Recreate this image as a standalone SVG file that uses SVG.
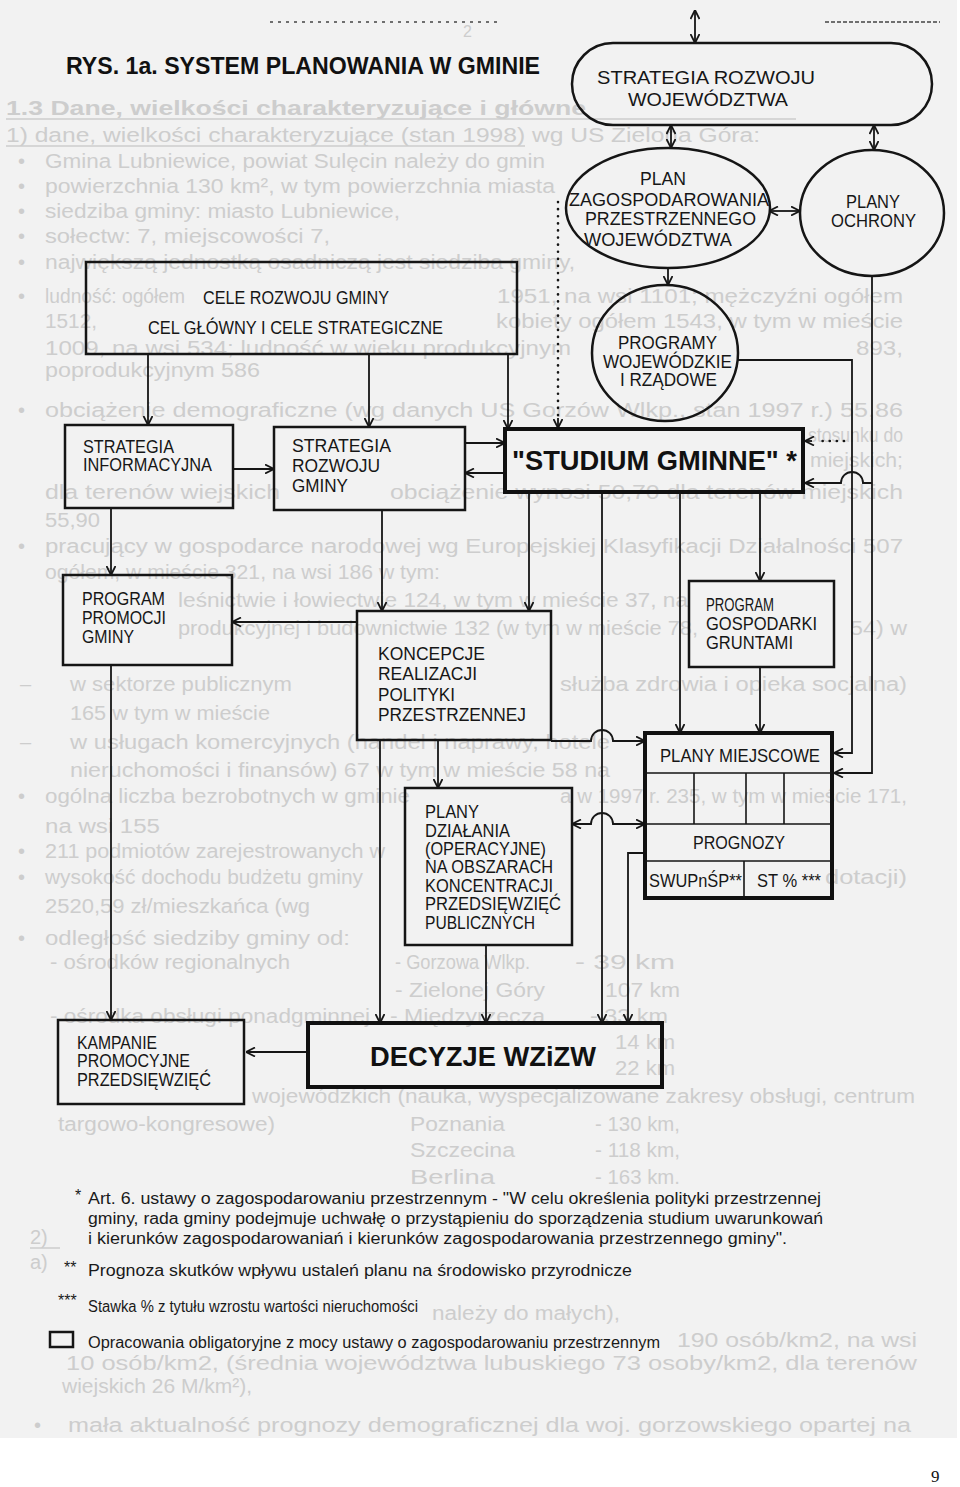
<svg xmlns="http://www.w3.org/2000/svg" width="960" height="1487" viewBox="0 0 960 1487">
<style>
.bx{fill:none;stroke:#151515;stroke-width:2.5}
.hv{fill:none;stroke:#111;stroke-width:4}
.ln{fill:none;stroke:#151515;stroke-width:1.6}
.lbl{font-family:"Liberation Sans Narrow","Liberation Sans",Arial,sans-serif;font-size:18px;fill:#161616}
.big{font-family:"Liberation Sans",Arial,sans-serif;font-weight:bold;fill:#111}
.cn{fill:none;stroke:#161616;stroke-width:1.8}
.dot{stroke-dasharray:0.1 7;stroke-linecap:round;stroke-width:2.6}
.bg{font-family:"Liberation Sans Narrow","Liberation Sans",Arial,sans-serif;font-size:20px;fill:#cdcdcd}
.ul{stroke:#cdcdcd;stroke-width:1.5}
.ft{font-family:"Liberation Sans Narrow","Liberation Sans",Arial,sans-serif;font-size:16px;fill:#1a1a1a}
</style>
<defs>
<marker id="ah" viewBox="0 0 10 10" refX="9.5" refY="5" markerWidth="10" markerHeight="10" markerUnits="userSpaceOnUse" orient="auto-start-reverse">
<path d="M0.5,0.5 L9.5,5 L0.5,9.5" fill="none" stroke="#161616" stroke-width="1.8"/>
</marker>
</defs>
<rect x="0" y="0" width="960" height="1487" fill="#ffffff"/>
<rect x="0" y="0" width="957" height="1438" fill="#f2f2f2"/>

<g id="background-text" class="bg">
<text x="6" y="115" font-weight="bold" textLength="580" lengthAdjust="spacingAndGlyphs">1.3 Dane, wielkości charakteryzujące i główne</text>
<line class="ul" x1="6" y1="119" x2="796" y2="119"/>
<text x="6" y="142" textLength="754" lengthAdjust="spacingAndGlyphs">1) dane, wielkości charakteryzujące (stan 1998) wg US Zielona Góra:</text>
<line class="ul" x1="6" y1="146" x2="525" y2="146"/>
<text x="18" y="168">•</text><text x="45" y="168" textLength="500" lengthAdjust="spacingAndGlyphs">Gmina Lubniewice, powiat Sulęcin należy do gmin</text>
<text x="18" y="193">•</text><text x="45" y="193" textLength="510" lengthAdjust="spacingAndGlyphs">powierzchnia 130 km², w tym powierzchnia miasta</text>
<text x="18" y="218">•</text><text x="45" y="218" textLength="355" lengthAdjust="spacingAndGlyphs">siedziba gminy: miasto Lubniewice,</text>
<text x="18" y="243">•</text><text x="45" y="243" textLength="285" lengthAdjust="spacingAndGlyphs">sołectw: 7, miejscowości 7,</text>
<text x="18" y="269">•</text><text x="45" y="269" textLength="530" lengthAdjust="spacingAndGlyphs">największą jednostką osadniczą jest siedziba gminy,</text>
<text x="18" y="303">•</text><text x="45" y="303" textLength="140" lengthAdjust="spacingAndGlyphs">ludność: ogółem</text>
<text x="497" y="303" textLength="406" lengthAdjust="spacingAndGlyphs">1951, na wsi 1101; mężczyźni ogółem</text>
<text x="45" y="328" textLength="52" lengthAdjust="spacingAndGlyphs">1512,</text>
<text x="496" y="328" textLength="407" lengthAdjust="spacingAndGlyphs">kobiety ogółem 1543, w tym w mieście</text>
<text x="45" y="355" textLength="526" lengthAdjust="spacingAndGlyphs">1009, na wsi 534; ludność w wieku produkcyjnym</text>
<text x="856" y="355" textLength="47" lengthAdjust="spacingAndGlyphs">893,</text>
<text x="45" y="377" textLength="215" lengthAdjust="spacingAndGlyphs">poprodukcyjnym 586</text>
<text x="18" y="417">•</text><text x="45" y="417" textLength="858" lengthAdjust="spacingAndGlyphs">obciążenie demograficzne (wg danych US Gorzów Wlkp., stan 1997 r.) 55,86</text>
<text x="808" y="442" textLength="95" lengthAdjust="spacingAndGlyphs">stosunku do</text>
<text x="810" y="467" textLength="93" lengthAdjust="spacingAndGlyphs">miejskich;</text>
<text x="45" y="499" textLength="235" lengthAdjust="spacingAndGlyphs">dla terenów wiejskich</text>
<text x="390" y="499" textLength="513" lengthAdjust="spacingAndGlyphs">obciążenie wynosi 50,70 dla terenów miejskich</text>
<text x="45" y="527" textLength="55" lengthAdjust="spacingAndGlyphs">55,90</text>
<text x="18" y="553">•</text><text x="45" y="553" textLength="858" lengthAdjust="spacingAndGlyphs">pracujący w gospodarce narodowej wg Europejskiej Klasyfikacji Działalności 507</text>
<text x="45" y="579" textLength="395" lengthAdjust="spacingAndGlyphs">ogółem, w mieście 321, na wsi 186 w tym:</text>
<text x="178" y="607" textLength="510" lengthAdjust="spacingAndGlyphs">leśnictwie i łowiectwie 124, w tym w mieście 37, na</text>
<text x="178" y="635" textLength="520" lengthAdjust="spacingAndGlyphs">produkcyjnej i budownictwie 132 (w tym w mieście 78,</text>
<text x="850" y="635" textLength="57" lengthAdjust="spacingAndGlyphs">54) w</text>
<text x="20" y="691">–</text><text x="70" y="691" textLength="222" lengthAdjust="spacingAndGlyphs">w sektorze publicznym</text>
<text x="560" y="691" textLength="347" lengthAdjust="spacingAndGlyphs">służba zdrowia i opieka socjalna)</text>
<text x="70" y="720" textLength="200" lengthAdjust="spacingAndGlyphs">165 w tym w mieście</text>
<text x="20" y="749">–</text><text x="70" y="749" textLength="540" lengthAdjust="spacingAndGlyphs">w usługach komercyjnych (handel i naprawy, hotele</text>
<text x="70" y="777" textLength="540" lengthAdjust="spacingAndGlyphs">nieruchomości i finansów) 67 w tym w mieście 58 na</text>
<text x="18" y="803">•</text><text x="45" y="803" textLength="365" lengthAdjust="spacingAndGlyphs">ogólna liczba bezrobotnych w gminie</text>
<text x="560" y="803" textLength="347" lengthAdjust="spacingAndGlyphs">a w 1997 r. 235, w tym w mieście 171,</text>
<text x="45" y="833" textLength="115" lengthAdjust="spacingAndGlyphs">na wsi 155</text>
<text x="18" y="858">•</text><text x="45" y="858" textLength="340" lengthAdjust="spacingAndGlyphs">211 podmiotów zarejestrowanych w</text>
<text x="18" y="884">•</text><text x="45" y="884" textLength="318" lengthAdjust="spacingAndGlyphs">wysokość dochodu budżetu gminy</text>
<text x="825" y="884" textLength="82" lengthAdjust="spacingAndGlyphs">dotacji)</text>
<text x="45" y="913" textLength="265" lengthAdjust="spacingAndGlyphs">2520,59 zł/mieszkańca (wg</text>
<text x="18" y="945">•</text><text x="45" y="945" textLength="305" lengthAdjust="spacingAndGlyphs">odległość siedziby gminy od:</text>
<text x="50" y="969" textLength="240" lengthAdjust="spacingAndGlyphs">- ośrodków regionalnych</text>
<text x="395" y="969" textLength="135" lengthAdjust="spacingAndGlyphs">- Gorzowa Wlkp.</text><text x="575" y="969" textLength="100" lengthAdjust="spacingAndGlyphs">- 39 km</text>
<text x="395" y="997" textLength="150" lengthAdjust="spacingAndGlyphs">- Zielonej Góry</text><text x="605" y="997" textLength="75" lengthAdjust="spacingAndGlyphs">107 km</text>
<text x="50" y="1023" textLength="320" lengthAdjust="spacingAndGlyphs">- ośrodka obsługi ponadgminnej</text>
<text x="390" y="1023" textLength="155" lengthAdjust="spacingAndGlyphs">- Międzyrzecza</text><text x="590" y="1023" textLength="78" lengthAdjust="spacingAndGlyphs">- 33 km</text>
<text x="615" y="1049" textLength="60" lengthAdjust="spacingAndGlyphs">14 km</text>
<text x="615" y="1075" textLength="60" lengthAdjust="spacingAndGlyphs">22 km</text>
<text x="252" y="1103" textLength="663" lengthAdjust="spacingAndGlyphs">wojewódzkich (nauka, wyspecjalizowane zakresy obsługi, centrum</text>
<text x="58" y="1131" textLength="217" lengthAdjust="spacingAndGlyphs">targowo-kongresowe)</text>
<text x="410" y="1131" textLength="95" lengthAdjust="spacingAndGlyphs">Poznania</text><text x="595" y="1131" textLength="85" lengthAdjust="spacingAndGlyphs">- 130 km,</text>
<text x="410" y="1157" textLength="105" lengthAdjust="spacingAndGlyphs">Szczecina</text><text x="595" y="1157" textLength="85" lengthAdjust="spacingAndGlyphs">- 118 km,</text>
<text x="410" y="1184" textLength="85" lengthAdjust="spacingAndGlyphs">Berlina</text><text x="595" y="1184" textLength="85" lengthAdjust="spacingAndGlyphs">- 163 km.</text>
<text x="30" y="1244">2)</text>
<line class="ul" x1="30" y1="1248" x2="60" y2="1248"/>
<text x="30" y="1269">a)</text>
<text x="432" y="1320" textLength="188" lengthAdjust="spacingAndGlyphs">należy do małych),</text>
<text x="677" y="1347" textLength="240" lengthAdjust="spacingAndGlyphs">190 osób/km2, na wsi</text>
<text x="66" y="1370" textLength="851" lengthAdjust="spacingAndGlyphs">10 osób/km2, (średnia województwa lubuskiego 73 osoby/km2, dla terenów</text>
<text x="62" y="1393" textLength="190" lengthAdjust="spacingAndGlyphs">wiejskich 26 M/km²),</text>
<text x="34" y="1432">•</text><text x="68" y="1432" textLength="843" lengthAdjust="spacingAndGlyphs">mała aktualność prognozy demograficznej dla woj. gorzowskiego opartej na</text>
<text x="463" y="37" font-size="16">2</text>
</g>

<g id="header-marks">
<line x1="270" y1="22" x2="500" y2="22" stroke="#444" stroke-width="1.5" stroke-dasharray="3 5"/>
<line x1="825" y1="22" x2="940" y2="22" stroke="#444" stroke-width="1.5" stroke-dasharray="4 2"/>
</g>

<g id="title">
<text class="big" x="66" y="74" font-size="23" textLength="474" lengthAdjust="spacingAndGlyphs">RYS. 1a. SYSTEM PLANOWANIA W GMINIE</text>
</g>

<g id="connectors">
<path class="cn" d="M695,10 V43" marker-start="url(#ah)" marker-end="url(#ah)"/>
<path class="cn" d="M671,125 V148" marker-start="url(#ah)" marker-end="url(#ah)"/>
<path class="cn" d="M874,125 V150" marker-start="url(#ah)" marker-end="url(#ah)"/>
<path class="cn" d="M769,211 H800" marker-start="url(#ah)" marker-end="url(#ah)"/>
<path class="cn dot" d="M558,202 V420"/>
<path class="cn" d="M558,418 V428" marker-end="url(#ah)"/>
<path class="cn" d="M668,268 V285" marker-end="url(#ah)"/>
<path class="cn" d="M738,360 H852 V753 H834" marker-end="url(#ah)"/>
<path class="cn" d="M872,276 V773 H834" marker-end="url(#ah)"/>
<path class="cn" d="M872,483 H863 A11,11 0 0 0 841,483 H805" marker-end="url(#ah)"/>
<path class="cn dot" d="M844,441 H818"/>
<path class="cn" d="M812,441 H805" marker-end="url(#ah)"/>
<path class="cn" d="M148,354 V425" marker-end="url(#ah)"/>
<path class="cn" d="M369,354 V427" marker-end="url(#ah)"/>
<path class="cn" d="M508,354 V429" marker-end="url(#ah)"/>
<path class="cn" d="M233,469 H274" marker-end="url(#ah)"/>
<path class="cn" d="M465,443 H505" marker-end="url(#ah)"/>
<path class="cn" d="M505,473 H465" marker-end="url(#ah)"/>
<path class="cn" d="M111,508 V575" marker-end="url(#ah)"/>
<path class="cn" d="M382,510 V611" marker-end="url(#ah)"/>
<path class="cn" d="M529,492 V611" marker-end="url(#ah)"/>
<path class="cn" d="M602,492 V1023" marker-end="url(#ah)"/>
<path class="cn" d="M680,492 V733" marker-end="url(#ah)"/>
<path class="cn" d="M760,492 V581" marker-end="url(#ah)"/>
<path class="cn" d="M760,667 V733" marker-end="url(#ah)"/>
<path class="cn" d="M357,622 H232" marker-end="url(#ah)"/>
<path class="cn" d="M438,740 V788" marker-end="url(#ah)"/>
<path class="cn" d="M551,741 H591 A11,11 0 0 1 613,741 H645" marker-end="url(#ah)"/>
<path class="cn" d="M572,824 H591 A11,11 0 0 1 613,824 H645" marker-start="url(#ah)" marker-end="url(#ah)"/>
<path class="cn" d="M380,740 V1023" marker-end="url(#ah)"/>
<path class="cn" d="M486,945 V1023" marker-end="url(#ah)"/>
<path class="cn" d="M645,853 H628 V1023" marker-end="url(#ah)"/>
<path class="cn" d="M111,665 V1020" marker-end="url(#ah)"/>
<path class="cn" d="M308,1052 H246" marker-end="url(#ah)"/>
</g>

<g id="strategia-rozwoju-wojewodztwa">
<rect class="bx" x="572" y="43" width="360" height="82" rx="41" ry="41"/>
<text class="lbl" x="597" y="84" font-size="20" textLength="218" lengthAdjust="spacingAndGlyphs">STRATEGIA ROZWOJU</text>
<text class="lbl" x="628" y="106" font-size="20" textLength="160" lengthAdjust="spacingAndGlyphs">WOJEWÓDZTWA</text>
</g>

<g id="plan-zagospodarowania">
<ellipse class="bx" cx="668" cy="208" rx="102" ry="60"/>
<text class="lbl" x="640" y="185" textLength="46" lengthAdjust="spacingAndGlyphs">PLAN</text>
<text class="lbl" x="569" y="206" textLength="200" lengthAdjust="spacingAndGlyphs">ZAGOSPODAROWANIA</text>
<text class="lbl" x="585" y="225" textLength="171" lengthAdjust="spacingAndGlyphs">PRZESTRZENNEGO</text>
<text class="lbl" x="584" y="246" textLength="148" lengthAdjust="spacingAndGlyphs">WOJEWÓDZTWA</text>
</g>

<g id="plany-ochrony">
<ellipse class="bx" cx="872" cy="213" rx="72" ry="63"/>
<text class="lbl" x="846" y="208" textLength="54" lengthAdjust="spacingAndGlyphs">PLANY</text>
<text class="lbl" x="831" y="227" textLength="85" lengthAdjust="spacingAndGlyphs">OCHRONY</text>
</g>

<g id="programy-wojewodzkie">
<ellipse class="bx" cx="665" cy="353" rx="73" ry="68"/>
<text class="lbl" x="618" y="349" textLength="99" lengthAdjust="spacingAndGlyphs">PROGRAMY</text>
<text class="lbl" x="603" y="368" textLength="129" lengthAdjust="spacingAndGlyphs">WOJEWÓDZKIE</text>
<text class="lbl" x="620" y="386" textLength="97" lengthAdjust="spacingAndGlyphs">I RZĄDOWE</text>
</g>

<g id="cele-rozwoju-gminy">
<rect class="bx" x="86" y="262" width="431" height="92"/>
<text class="lbl" x="203" y="304" textLength="186" lengthAdjust="spacingAndGlyphs">CELE ROZWOJU GMINY</text>
<text class="lbl" x="148" y="334" textLength="295" lengthAdjust="spacingAndGlyphs">CEL GŁÓWNY I CELE STRATEGICZNE</text>
</g>

<g id="strategia-informacyjna">
<rect class="bx" x="65" y="425" width="168" height="83"/>
<text class="lbl" x="83" y="453" textLength="91" lengthAdjust="spacingAndGlyphs">STRATEGIA</text>
<text class="lbl" x="83" y="471" textLength="129" lengthAdjust="spacingAndGlyphs">INFORMACYJNA</text>
</g>

<g id="strategia-rozwoju-gminy">
<rect class="bx" x="274" y="427" width="191" height="83"/>
<text class="lbl" x="292" y="452" textLength="99" lengthAdjust="spacingAndGlyphs">STRATEGIA</text>
<text class="lbl" x="292" y="472" textLength="88" lengthAdjust="spacingAndGlyphs">ROZWOJU</text>
<text class="lbl" x="292" y="492" textLength="56" lengthAdjust="spacingAndGlyphs">GMINY</text>
</g>

<g id="studium-gminne">
<rect class="hv" x="505" y="429" width="298" height="63"/>
<text class="big" x="512" y="470" font-size="28" textLength="285" lengthAdjust="spacingAndGlyphs">"STUDIUM GMINNE" *</text>
</g>

<g id="program-promocji-gminy">
<rect class="bx" x="63" y="575" width="169" height="90"/>
<text class="lbl" x="82" y="605" textLength="83" lengthAdjust="spacingAndGlyphs">PROGRAM</text>
<text class="lbl" x="82" y="624" textLength="84" lengthAdjust="spacingAndGlyphs">PROMOCJI</text>
<text class="lbl" x="82" y="643" textLength="52" lengthAdjust="spacingAndGlyphs">GMINY</text>
</g>

<g id="koncepcje">
<rect class="bx" x="357" y="611" width="194" height="129"/>
<text class="lbl" x="378" y="660" textLength="107" lengthAdjust="spacingAndGlyphs">KONCEPCJE</text>
<text class="lbl" x="378" y="680" textLength="99" lengthAdjust="spacingAndGlyphs">REALIZACJI</text>
<text class="lbl" x="378" y="701" textLength="77" lengthAdjust="spacingAndGlyphs">POLITYKI</text>
<text class="lbl" x="378" y="721" textLength="148" lengthAdjust="spacingAndGlyphs">PRZESTRZENNEJ</text>
</g>

<g id="program-gospodarki-gruntami">
<rect class="bx" x="689" y="581" width="145" height="86"/>
<text class="lbl" x="706" y="611" textLength="68" lengthAdjust="spacingAndGlyphs">PROGRAM</text>
<text class="lbl" x="706" y="630" textLength="111" lengthAdjust="spacingAndGlyphs">GOSPODARKI</text>
<text class="lbl" x="706" y="649" textLength="87" lengthAdjust="spacingAndGlyphs">GRUNTAMI</text>
</g>

<g id="plany-miejscowe">
<rect class="hv" x="645" y="733" width="187" height="165"/>
<path class="ln" d="M645,773 H832 M694,773 V824 M746,773 V824 M784,773 V824 M645,824 H832 M645,861 H832 M744,861 V898"/>
<text class="lbl" x="660" y="762" font-size="17" textLength="160" lengthAdjust="spacingAndGlyphs">PLANY MIEJSCOWE</text>
<text class="lbl" x="693" y="849" font-size="17" textLength="92" lengthAdjust="spacingAndGlyphs">PROGNOZY</text>
<text class="lbl" x="649" y="887" font-size="17" textLength="93" lengthAdjust="spacingAndGlyphs">SWUPnŚP**</text>
<text class="lbl" x="757" y="887" font-size="17" textLength="64" lengthAdjust="spacingAndGlyphs">ST % ***</text>
</g>

<g id="plany-dzialania">
<rect class="bx" x="405" y="788" width="167" height="157"/>
<text class="lbl" x="425" y="818" font-size="17" textLength="54" lengthAdjust="spacingAndGlyphs">PLANY</text>
<text class="lbl" x="425" y="837" font-size="17" textLength="85" lengthAdjust="spacingAndGlyphs">DZIAŁANIA</text>
<text class="lbl" x="425" y="855" font-size="17" textLength="121" lengthAdjust="spacingAndGlyphs">(OPERACYJNE)</text>
<text class="lbl" x="425" y="873" font-size="17" textLength="128" lengthAdjust="spacingAndGlyphs">NA OBSZARACH</text>
<text class="lbl" x="425" y="892" font-size="17" textLength="128" lengthAdjust="spacingAndGlyphs">KONCENTRACJI</text>
<text class="lbl" x="425" y="910" font-size="17" textLength="136" lengthAdjust="spacingAndGlyphs">PRZEDSIĘWZIĘĆ</text>
<text class="lbl" x="425" y="929" font-size="17" textLength="110" lengthAdjust="spacingAndGlyphs">PUBLICZNYCH</text>
</g>

<g id="decyzje-wzizw">
<rect class="hv" x="308" y="1023" width="354" height="64"/>
<text class="big" x="370" y="1066" font-size="27" textLength="226" lengthAdjust="spacingAndGlyphs">DECYZJE WZiZW</text>
</g>

<g id="kampanie-promocyjne">
<rect class="bx" x="58" y="1020" width="186" height="84"/>
<text class="lbl" x="77" y="1049" textLength="80" lengthAdjust="spacingAndGlyphs">KAMPANIE</text>
<text class="lbl" x="77" y="1067" textLength="113" lengthAdjust="spacingAndGlyphs">PROMOCYJNE</text>
<text class="lbl" x="77" y="1086" textLength="134" lengthAdjust="spacingAndGlyphs">PRZEDSIĘWZIĘĆ</text>
</g>

<g id="footnotes">
<text class="ft" x="75" y="1201" font-size="14">*</text>
<text class="ft" x="88" y="1204" textLength="733" lengthAdjust="spacingAndGlyphs">Art. 6. ustawy o zagospodarowaniu przestrzennym - "W celu określenia polityki przestrzennej</text>
<text class="ft" x="88" y="1224" textLength="735" lengthAdjust="spacingAndGlyphs">gminy, rada gminy podejmuje uchwałę o przystąpieniu do sporządzenia studium uwarunkowań</text>
<text class="ft" x="88" y="1244" textLength="699" lengthAdjust="spacingAndGlyphs">i kierunków zagospodarowaniań i kierunków zagospodarowania przestrzennego gminy".</text>
<text class="ft" x="64" y="1273" font-size="14">**</text>
<text class="ft" x="88" y="1276" textLength="544" lengthAdjust="spacingAndGlyphs">Prognoza skutków wpływu ustaleń planu na środowisko przyrodnicze</text>
<text class="ft" x="58" y="1306" font-size="12">***</text>
<text class="ft" x="88" y="1312" font-size="14" textLength="330" lengthAdjust="spacingAndGlyphs">Stawka % z tytułu wzrostu wartości nieruchomości</text>
<rect x="50" y="1332" width="23" height="15" fill="none" stroke="#151515" stroke-width="2.5"/>
<text class="ft" x="88" y="1348" font-size="15" textLength="572" lengthAdjust="spacingAndGlyphs">Opracowania obligatoryjne z mocy ustawy o zagospodarowaniu przestrzennym</text>
</g>

<g id="page-number">
<text x="931" y="1482" font-family="Liberation Serif, serif" font-size="17" fill="#111">9</text>
</g>
</svg>
